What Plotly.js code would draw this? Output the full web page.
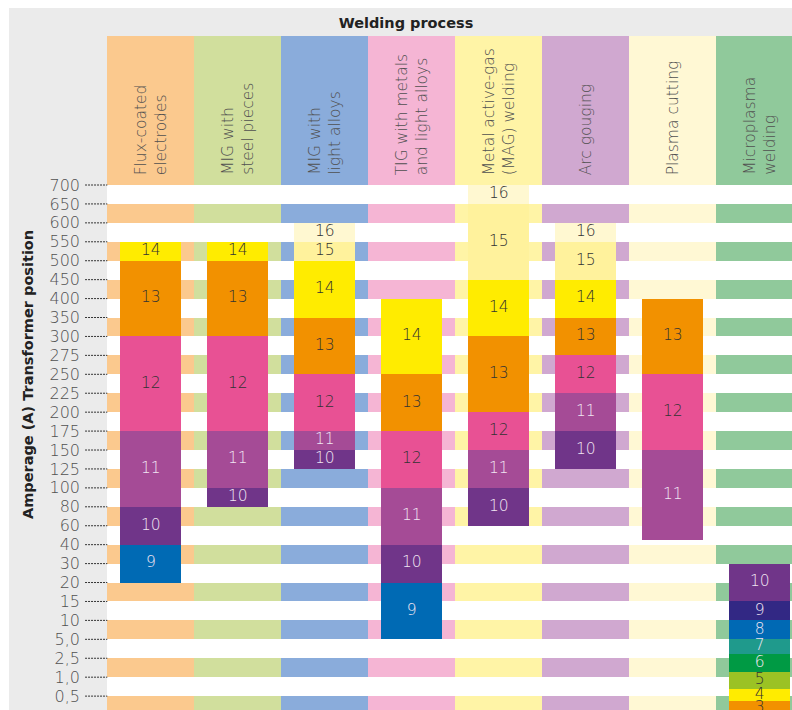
<!DOCTYPE html>
<html>
<head>
<meta charset="utf-8">
<script src="https://cdn.plot.ly/plotly-3.0.1.min.js"></script>
<style>
html,body{margin:0;padding:0;background:#fff;}
#chart{width:792px;height:710px;}
</style>
</head>
<body>
<div id="chart"></div>
<script>
// ---------- DATA ----------
const processes = [
  "Flux-coated<br>electrodes",
  "MIG with<br>steel pieces",
  "MIG with<br>light alloys",
  "TIG with metals<br>and light alloys",
  "Metal active-gas<br>(MAG) welding",
  "Arc gouging",
  "Plasma cutting",
  "Microplasma<br>welding"
];

const ampTicks = [700,650,600,550,500,450,400,350,300,275,250,225,200,175,150,125,100,80,60,40,30,20,15,10,5,2.5,1,0.5];
const tickLabels = ["700","650","600","550","500","450","400","350","300","275","250","225","200","175","150","125","100","80","60","40","30","20","15","10","5,0","2,5","1,0","0,5"];

// shade number, amperage from (upper) and to (lower) for each process
const fluxShades = [14,13,12,11,10,9];
const fluxFrom   = [550,500,300,175,80,40];
const fluxTo     = [500,300,175,80,40,20];

const migSteelShades = [14,13,12,11,10];
const migSteelFrom   = [550,500,300,175,100];
const migSteelTo     = [500,300,175,100,80];

const migLightShades = [16,15,14,13,12,11,10];
const migLightFrom   = [600,550,500,350,250,175,150];
const migLightTo     = [550,500,350,250,175,150,125];

const tigShades = [14,13,12,11,10,9];
const tigFrom   = [400,250,175,100,40,20];
const tigTo     = [250,175,100,40,20,5];

const magShades = [16,15,14,13,12,11,10];
const magFrom   = [700,650,450,300,200,150,100];
const magTo     = [650,450,300,200,150,100,60];

const arcShades = [16,15,14,13,12,11,10];
const arcFrom   = [600,550,450,350,275,225,175];
const arcTo     = [550,450,350,275,225,175,125];

const plasmaShades = [13,12,11];
const plasmaFrom   = [400,250,150];
const plasmaTo     = [250,150,45];

const microShades = [10,9,8,7,6,5,4,3];
const microFrom   = [30,15,10,5,3.1,1.4,0.7,0.37];
const microTo     = [15,10,5,3.1,1.4,0.7,0.37,0];

// ---------- STYLES ----------
const columnColors = ["#fbc98e","#d1df9d","#8aacdb","#f5b5d4","#fff4a6","#d0a8d0","#fff8d4","#90c99b"];
const shadeColors = {16:"#fff8d1",15:"#fff29c",14:"#ffec00",13:"#f29100",12:"#e85194",11:"#a54b96",10:"#703589",9:"#006ab4",8:"#0069b4",7:"#1f9a8c",6:"#009a44",5:"#9bc224",4:"#ffec00",3:"#f29100"};
const microShadeColors = Object.assign({}, shadeColors, {9:"#322884"});
const lightTextShades = [6,7,8,9,10,11];
const darkText = "#333333";
const lightText = "#f0e4f2";
const bgGray = "#ebebeb";
const FONT = "DejaVu Sans, sans-serif";
const LIGHT = 200;

const groups = [
  [fluxShades, fluxFrom, fluxTo],
  [migSteelShades, migSteelFrom, migSteelTo],
  [migLightShades, migLightFrom, migLightTo],
  [tigShades, tigFrom, tigTo],
  [magShades, magFrom, magTo],
  [arcShades, arcFrom, arcTo],
  [plasmaShades, plasmaFrom, plasmaTo],
  [microShades, microFrom, microTo]
];

// Non-linear amperage scale: each tick occupies one row
const scale = ampTicks.concat([0]);
function ampToRow(a){
  for(let i=0;i<scale.length-1;i++){
    if(a<=scale[i] && a>=scale[i+1]){
      return i + (scale[i]-a)/(scale[i]-scale[i+1]);
    }
  }
  return a>scale[0] ? 0 : scale.length-1;
}

const HEADER_TOP = -7.87;   // header band above top tick (rows)
const nRows = ampTicks.length;

const traces = [];

// Column background bands (header + alternating stripes)
processes.forEach((p,k)=>{
  const bases=[HEADER_TOP], lens=[-HEADER_TOP], cols=[columnColors[k]];
  for(let r=0;r<nRows;r++){
    bases.push(r); lens.push(1);
    cols.push(r%2===1 ? columnColors[k] : "#ffffff");
  }
  traces.push({
    type:"bar", x:bases.map(()=>k), y:lens, base:bases, width:1,
    marker:{color:cols, line:{width:0}}, hoverinfo:"skip", showlegend:false
  });
});

// Shade blocks
const txtX=[], txtY=[], txt=[], txtC=[];
groups.forEach((g,k)=>{
  const [sh, fr, to] = g;
  const cmap = (k===7) ? microShadeColors : shadeColors;
  const bases = fr.map(ampToRow);
  const lens = to.map((v,i)=>ampToRow(v)-bases[i]);
  traces.push({
    type:"bar", x:sh.map(()=>k), y:lens, base:bases, width:0.70,
    marker:{color:sh.map(s=>cmap[s]), line:{width:0}},
    hoverinfo:"skip", showlegend:false
  });
  sh.forEach((s,i)=>{
    txtX.push(k); txtY.push(bases[i]+lens[i]/2); txt.push(String(s));
    txtC.push(lightTextShades.includes(s) ? lightText : darkText);
  });
});

traces.push({
  type:"scatter", mode:"text", x:txtX, y:txtY, text:txt,
  textfont:{family:FONT, size:15.5, color:txtC, weight:LIGHT},
  textposition:"middle center", hoverinfo:"skip", showlegend:false
});

// Dotted tick leaders
const lx=[], ly=[];
ampTicks.forEach((a,i)=>{ lx.push(-0.756,-0.5,null); ly.push(i,i,null); });
traces.push({
  type:"scatter", mode:"lines", x:lx, y:ly,
  line:{color:"#333333", width:1, dash:"2px,1px"},
  hoverinfo:"skip", showlegend:false, cliponaxis:false
});

const annotations = processes.map((p,k)=>({
  x:k, y:-0.42, xref:"x", yref:"y", text:p, showarrow:false,
  textangle:-90, xanchor:"center", yanchor:"bottom", align:"left",
  font:{family:FONT, size:15.5, color:"#505050", weight:LIGHT}
}));
annotations.push({
  x:(28-84)/708, y:1-375/710, xref:"paper", yref:"paper",
  text:"<b>Amperage (A) Transformer position</b>", showarrow:false,
  textangle:-90, xanchor:"center", yanchor:"middle",
  font:{family:FONT, size:14.5, color:"#222222"}
});

const layout = {
  width:792, height:710,
  margin:{l:84, r:0, t:0, b:0, pad:0},
  paper_bgcolor:"#ffffff", plot_bgcolor:"rgba(0,0,0,0)",
  barmode:"overlay", bargap:0,
  showlegend:false,
  title:{text:"<b>Welding process</b>", x:406/792, xref:"container", xanchor:"center",
         y:1-23/710, yref:"container", yanchor:"middle",
         font:{family:FONT, size:14.5, color:"#222222"}},
  xaxis:{range:[-0.768, 7.370], showgrid:false, zeroline:false, showline:false,
         showticklabels:false, ticks:"", fixedrange:true},
  yaxis:{range:[27.734, -9.773], showgrid:false, zeroline:false, showline:false,
         tickmode:"array", tickvals:ampTicks.map((a,i)=>i), ticktext:tickLabels,
         ticks:"", ticklabelstandoff:3,
         tickfont:{family:FONT, size:16, color:"#505050", weight:LIGHT}, fixedrange:true},
  shapes:[{type:"rect", xref:"paper", yref:"paper", x0:(9-84)/708, x1:1.01, y0:-0.02, y1:1-8/710,
           fillcolor:bgGray, line:{width:0}, layer:"below"}],
  annotations:annotations
};

Plotly.newPlot("chart", traces, layout, {displayModeBar:false, staticPlot:true});
</script>
</body>
</html>
